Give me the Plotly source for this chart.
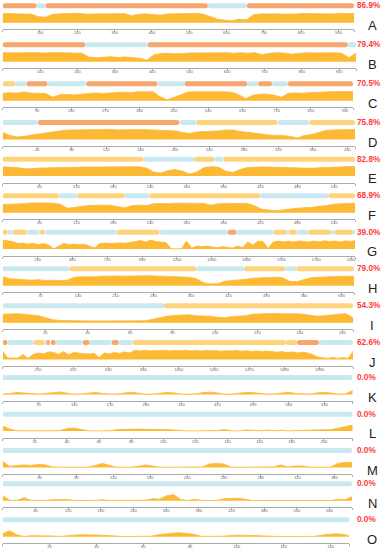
import numpy as np
import plotly.graph_objects as go

W, H = 382, 550

letters = list("ABCDEFGHIJKLMNO")
percent = ["86.9%", "79.4%", "70.5%", "75.8%", "82.8%", "68.9%", "39.0%", "79.0%",
           "54.3%", "62.6%", "0.0%", "0.0%", "0.0%", "0.0%", "0.0%"]
lengths = [942, 945, 921, 409, 574, 574, 2427, 653, 165, 2088, 685, 218, 379, 641, 148]
tick_step = [100, 100, 90, 40, 60, 60, 240, 70, 20, 210, 70, 20, 40, 60, 20]

# segments: (start, end, kind)  s = salmon, y = yellow, b = blue
seg_A = [(0, 91, "s"), (91, 115, "b"), (115, 550, "s"), (550, 655, "b"), (655, 942, "s")]
seg_B = [(0, 221, "s"), (221, 388, "b"), (388, 923, "s"), (923, 945, "b")]
seg_C = [(0, 34, "y"), (34, 63, "b"), (63, 118, "s"), (118, 220, "b"), (220, 407, "s"),
         (407, 478, "b"), (478, 643, "s"), (643, 672, "b"), (672, 708, "s"), (708, 750, "b"),
         (750, 921, "s")]
seg_D = [(0, 41, "b"), (41, 205, "s"), (205, 225, "b"), (225, 319, "y"), (319, 356, "b"),
         (356, 409, "y")]
seg_E = [(0, 229, "y"), (229, 312, "b"), (312, 345, "y"), (345, 360, "b"), (360, 574, "y")]
seg_F = [(0, 92, "y"), (92, 121, "b"), (121, 199, "y"), (199, 239, "b"), (239, 420, "y"),
         (420, 531, "b"), (531, 574, "y")]
seg_G = [(0, 35, "y"), (35, 69, "b"), (69, 166, "y"), (166, 256, "b"), (256, 290, "y"),
         (290, 788, "b"), (788, 1079, "y"), (1079, 1549, "b"), (1549, 1611, "s"),
         (1611, 1867, "b"), (1867, 1957, "y"), (1957, 1971, "b"), (1971, 2026, "y"),
         (2026, 2102, "b"), (2102, 2261, "y"), (2261, 2289, "b"), (2289, 2413, "y"),
         (2413, 2427, "b")]
seg_H = [(0, 124, "b"), (124, 360, "y"), (360, 449, "b"), (449, 525, "y"), (525, 546, "b"),
         (546, 653, "y")]
seg_I = [(0, 76, "b"), (76, 165, "y")]
seg_J = [(0, 29, "s"), (29, 184, "b"), (184, 250, "y"), (250, 262, "b"), (262, 280, "s"),
         (286, 316, "s"), (316, 477, "b"), (477, 519, "s"), (519, 650, "b"), (650, 692, "s"),
         (692, 775, "b"), (775, 1688, "y"), (1688, 1754, "y"), (1754, 1885, "s"),
         (1885, 2088, "b")]
seg_K = [(0, 685, "b")]
seg_L = [(0, 218, "b")]
seg_M = [(0, 379, "b")]
seg_N = [(0, 641, "b")]
seg_O = [(0, 148, "b")]

# profile heights, evenly sampled along each sequence
prof_A = [9, 9.3, 8.8, 9, 8.5, 6, 5.5, 8.5, 9, 9.3, 9.4, 9.2, 8.5, 8.8, 9, 9, 9.2, 9, 7, 8.5,
          8.8, 8, 7.5, 8.8, 9, 9.2, 9.4, 9.3, 8.5, 6, 3.5, 2.5, 2, 3.5, 3, 8, 8.8, 8.7, 9, 8.5,
          9, 8.8, 9.2, 9, 8.7, 9, 8.8, 9.3, 9, 9.5]
prof_B = [9, 8.8, 9.2, 9, 9.3, 9, 8.7, 9.2, 9, 9.1, 8.8, 8.5, 4.5, 4, 4.5, 5, 4.2, 4.8, 4, 3.5,
          1.5, 7, 8.2, 8.5, 8, 8.6, 8.8, 8.8, 9, 9.2, 8.8, 9, 8.5, 9, 8.5, 9, 7, 8.5, 9, 8.8,
          7.5, 8.5, 9, 8.8, 9, 8.7, 9, 8.5, 4, 8.5]
prof_C = [7.5, 8, 7.5, 8.8, 7.5, 7, 7.2, 3.5, 6, 6.2, 5.8, 6.5, 7.5, 7.8, 7.2, 8, 8.2, 8.5, 8, 9,
          8.8, 9, 4, 1, 3.5, 6, 8.8, 9, 9.2, 9, 9, 9, 8.5, 6, 2, 5.5, 6.5, 6.5, 5.5, 3.5,
          7.5, 7.8, 7.5, 8, 8.5, 9, 9, 9.2, 9, 9]
prof_D = [7, 4, 2.5, 3, 4.3, 5.5, 6.5, 7.5, 8.5, 9.3, 9.5, 9.8, 9.7, 10, 9.8, 10, 9.5, 9.8, 10, 9.8,
          9.7, 9.3, 9, 9, 8.5, 7, 6, 7.5, 7.8, 7.5, 8.5, 9.3, 9.5, 8, 7, 6.5, 5.5, 4.5, 4, 4,
          3, 1.5, 4, 5, 7, 9, 9.5, 9.8, 10, 10]
prof_E = [9.3, 9, 8.5, 7.5, 7.3, 8, 8.3, 8.2, 8.5, 8.5, 8.8, 9, 8.7, 9, 9.2, 9.3, 9, 9.2, 9, 9.3,
          8, 4, 3, 5.5, 6.5, 5, 2, 4, 8.5, 9.3, 9, 5, 3.5, 6.5, 8.5, 9, 9.2, 9, 8.8, 8.5,
          8.3, 8, 8.2, 7.8, 8.3, 8.8, 9, 9.2, 9.5, 9.6]
prof_F = [8.3, 8.5, 8.2, 9, 9.8, 10, 9.8, 9.5, 8.5, 4.5, 5.5, 6, 7.2, 7.5, 7.3, 7.5, 6, 5, 7, 7.5,
          7.2, 9, 9.3, 9, 9.5, 9.3, 9.5, 9, 9.3, 7.5, 9, 9.3, 9, 9.2, 9.4, 7, 3.5, 2.5, 2, 2.8,
          4, 4.5, 5, 5.3, 6.5, 7, 8.5, 9.2, 9.3, 9.5]
prof_G = [9, 8, 7.5, 5.5, 6, 5, 5.8, 4.5, 5.5, 4, 0.3, 3, 5.7, 4.5, 5, 4.5, 4.8, 3, 1.3, 5.5,
          6, 5.5, 6, 6.2, 5.8, 6.5, 7.5, 8.5, 7, 9, 7.5, 6.7, 6.5, 0.3, 0.3, 0.3, 8, 1, 3, 2.5,
          3, 2, 1.5, 2.5, 1.8, 1, 3, 1.5, 7, 4, 8, 7.5, 0.7, 7, 8, 7.2, 7.8, 7, 8.2, 7.5,
          7, 8, 7.3, 8.3, 7.5, 8, 7.2, 8.2, 7.8, 8.3]
prof_H = [9, 7, 6.5, 6, 5.5, 6, 5, 5.5, 5, 5.5, 8.5, 9, 8.7, 9, 9.5, 9.8, 9.7, 9.5, 9.8, 9.5,
          10, 9.8, 9.6, 9.8, 9.5, 9.2, 8.5, 7, 3, 1.8, 2, 4.5, 5, 6, 6.5, 7.5, 8, 8.2, 8.5, 8,
          4.5, 4, 6, 8, 8.5, 9, 9, 9.3, 9.5, 9.2]
prof_I = [8.5, 8.8, 9, 8.5, 8, 7, 5, 3, 2.2, 2, 1.8, 1.7, 1.8, 1.7, 1.8, 1.7, 1.6, 1.7, 1.8, 1.9,
          2, 3.5, 5, 6.5, 7.2, 7.8, 8, 7, 6.8, 6.5, 5.5, 5, 6, 6.5, 7, 8.5, 9, 9.3, 9.3, 9,
          9.2, 9, 8.5, 7.5, 6.5, 7, 8, 8.5, 9, 5]
prof_J = [8, 1.5, 1.5, 1.2, 5, 1, 5, 6.5, 5.5, 7.5, 7, 5, 7.8, 4.5, 7, 6, 5.7, 5.5, 6, 2,
          6.5, 5.5, 7, 6, 7.5, 6.5, 9, 8.5, 9.2, 8.3, 9, 8.7, 9.2, 8.5, 9, 8.6, 9.2, 8.5, 8.8, 8.3,
          9, 8.5, 8.8, 8.2, 8.7, 8.4, 8.9, 8.2, 8.6, 8, 8.5, 8, 8.3, 7.8, 7.2, 7.8, 6.8, 7.5, 6.5, 7.2,
          6.5, 5, 2.5, 1.7, 1, 2, 1, 1.8, 1, 8]
prof_K = [0.5, 0.8, 2, 1.5, 0.3, 0.3, 1, 1.8, 2.5, 1.2, 0.3, 0.5, 1.5, 2, 1, 0.3, 0.5, 1.5, 2.2, 1.2,
          0.3, 0.3, 1, 2, 1.5, 0.3, 0.3, 0.5, 1.8, 2.2, 1.5, 0.3, 0.3, 1, 2, 1.8, 1, 0.3, 0.5, 1.5,
          2.2, 1, 0.3, 0.3, 1.5, 2, 1.3, 0.3, 0.5, 4]
prof_L = [5, 2, 0.3, 0.2, 0.2, 0.2, 0.2, 0.3, 0.5, 2.5, 3, 2, 0.3, 0.2, 0.2, 0.3, 1.5, 1.8, 1.5, 2,
          1.8, 2, 1.7, 1.5, 1, 0.3, 0.2, 0.2, 0.2, 0.2, 0.5, 1.5, 0.3, 0.2, 1, 0.8, 0.3, 1, 0.3, 0.8,
          0.2, 0.5, 0.8, 0.8, 0.8, 1, 1.5, 3, 4.5, 6]
prof_M = [6, 1, 2, 2.5, 2, 3, 2.5, 0.5, 0.2, 0.2, 0.2, 0.2, 0.3, 2, 4, 2, 0.2, 0.2, 0.2, 1,
          2.5, 1.5, 0.2, 0.2, 0.2, 0.2, 0.2, 0.2, 0.5, 3.5, 4, 3.5, 0.3, 0.2, 0.2, 0.2, 0.2, 0.2, 0.5, 2.5,
          0.5, 1.5, 1.5, 0.3, 0.2, 0.2, 0.3, 4, 5, 5]
prof_N = [5, 0.5, 0.3, 3, 0.3, 0.2, 0.2, 1, 1.5, 1.3, 0.2, 0.5, 0.2, 0.2, 1, 0.2, 0.2, 0.2, 0.2, 0.2,
          0.5, 2, 1.5, 5, 6, 1, 0.3, 1.5, 0.2, 0.2, 0.2, 2, 2, 2.5, 1.5, 0.2, 0.2, 0.2, 0.2, 0.2,
          0.2, 0.2, 0.2, 0.2, 0.2, 0.2, 0.2, 1.5, 1, 4]
prof_O = [3, 6, 2, 0.2, 1, 1, 1, 0.8, 0.2, 1.2, 1.5, 2, 2.2, 1.8, 1.5, 1, 0.2, 0.2, 0.2, 0.2,
          0.2, 0.5, 2, 3, 3.5, 4, 3.5, 2.5, 0.5, 0.2, 0.3, 0.5, 1.2, 1.5, 1.5, 1.2, 1, 0.3, 0.2, 0.2,
          0.2, 0.2, 0.2, 0.2, 0.3, 1.5, 2.5, 3, 2.5, 1]

segments = [seg_A, seg_B, seg_C, seg_D, seg_E, seg_F, seg_G, seg_H, seg_I, seg_J,
            seg_K, seg_L, seg_M, seg_N, seg_O]
profiles = [prof_A, prof_B, prof_C, prof_D, prof_E, prof_F, prof_G, prof_H, prof_I, prof_J,
            prof_K, prof_L, prof_M, prof_N, prof_O]

# layout: pixel row of each axis line, right end of each track
axis_px = [29.3, 68.3, 107.3, 146, 182.7, 219.3, 255.7, 292.3, 329.3, 366, 401, 437.7, 474, 507.3, 543.3]
x_end_px = [354, 356, 353, 355, 355, 355, 355, 354, 353, 353, 352.7, 352.7, 352, 352, 349.3]

COL = {"s": "#F6A66E", "y": "#FDD37B", "b": "#C9E9F1"}
AREA = "#FDB933"
BAR_Y = 16.9

fig = go.Figure()
layout = {}
for i in range(15):
    n = i + 1
    xa = "x" if n == 1 else f"x{n}"
    ya = "y" if n == 1 else f"y{n}"
    L = lengths[i]
    vals = profiles[i]
    pos = np.linspace(0, L, len(vals))
    fig.add_trace(go.Scatter(x=pos, y=vals, xaxis=xa, yaxis=ya, mode="lines",
                             fill="tozeroy", fillcolor=AREA,
                             line=dict(color=AREA, width=0.8), hoverinfo="skip"))
    segs = segments[i]
    fig.add_trace(go.Bar(y=[BAR_Y] * len(segs), x=[e - s for s, e, k in segs],
                         base=[s for s, e, k in segs], orientation="h", width=5,
                         marker=dict(color=[COL[k] for s, e, k in segs], cornerradius="50%",
                                     line=dict(width=0)),
                         xaxis=xa, yaxis=ya, hoverinfo="skip"))
    step = tick_step[i]
    tv = [0] + list(range(step, L, step)) + [L]
    tt = [""] + [str(v) for v in range(step, L, step)] + [""]
    bottom = 1 - axis_px[i] / H
    layout["xaxis" if n == 1 else f"xaxis{n}"] = dict(
        domain=[2.7 / W, x_end_px[i] / W], range=[0, L], anchor=ya, automargin=False,
        showline=True, linecolor="#AAAAAA", linewidth=1, ticks="outside", ticklen=2,
        tickcolor="#AAAAAA", tickwidth=0.8, tickvals=tv, ticktext=tt, ticklabelstandoff=-3,
        tickfont=dict(size=4, color="#666666", family="Liberation Sans"),
        showgrid=False, zeroline=False, fixedrange=True)
    layout["yaxis" if n == 1 else f"yaxis{n}"] = dict(
        domain=[bottom, bottom + 27 / H], range=[-6.6, 20.4], anchor=xa, automargin=False,
        visible=False, fixedrange=True)
    fig.add_annotation(x=356 / W, y=1 - (axis_px[i] - 23.5) / H, xref="paper", yref="paper",
                       text=f"<b>{percent[i]}</b>", showarrow=False, xanchor="left",
                       yanchor="middle", borderpad=0,
                       font=dict(size=8.2, color="#FF3B3B", family="Liberation Sans"))
    fig.add_annotation(x=372 / W, y=1 - (axis_px[i] - 4) / H, xref="paper", yref="paper",
                       text=letters[i], showarrow=False, xanchor="center", yanchor="middle",
                       font=dict(size=13, color="#222222", family="Liberation Sans"))

fig.update_layout(**layout)
fig.update_layout(width=W, height=H, margin=dict(l=0, r=0, t=0, b=0),
                  paper_bgcolor="white", plot_bgcolor="white", showlegend=False,
                  barmode="overlay")
fig.write_html("out.html", config={"displayModeBar": False},
               post_script="document.body.style.margin='0';")
